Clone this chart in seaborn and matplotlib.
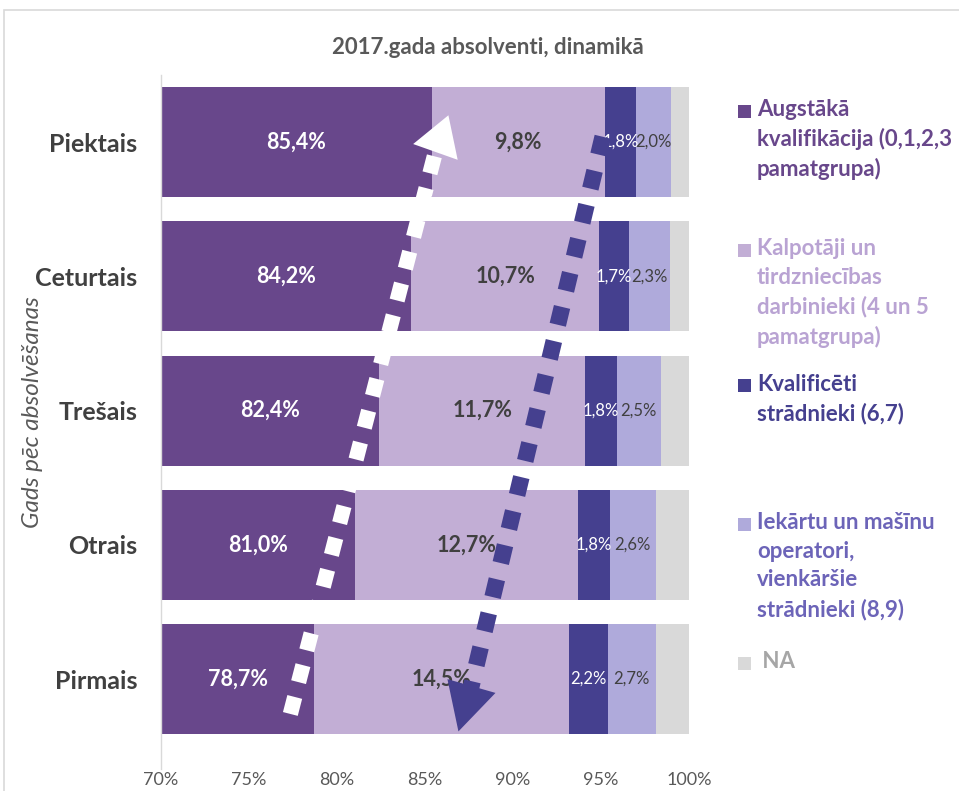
import numpy as np
import pandas as pd
import matplotlib
matplotlib.use("Agg")
import matplotlib.pyplot as plt
from matplotlib.patches import Rectangle
import seaborn as sns

# ---------------- data ----------------
years = ["Piektais", "Ceturtais", "Trešais", "Otrais", "Pirmais"]
augstaka = [85.4, 84.2, 82.4, 81.0, 78.7]
kalpotaji = [9.8, 10.7, 11.7, 12.7, 14.5]
kvalificeti = [1.8, 1.7, 1.8, 1.8, 2.2]
iekartu = [2.0, 2.3, 2.5, 2.6, 2.7]
na_vals = [1.0, 1.1, 1.6, 1.9, 1.9]

series_names = [
    "Augstākā\nkvalifikācija (0,1,2,3\npamatgrupa)",
    "Kalpotāji un\ntirdzniecības\ndarbinieki (4 un 5\npamatgrupa)",
    "Kvalificēti\nstrādnieki (6,7)",
    "Iekārtu un mašīnu\noperatori,\nvienkāršie\nstrādnieki (8,9)",
    " NA",
]
x_ticks = [70, 75, 80, 85, 90, 95, 100]
x_tick_labels = ["70%", "75%", "80%", "85%", "90%", "95%", "100%"]
title = "2017.gada absolventi, dinamikā"
y_label = "Gads pēc absolvēšanas"

bar_colors = ["#68478B", "#C2AED5", "#45408F", "#AFAADB", "#D9D9D9"]
legend_text_colors = ["#68478B", "#B9A3D3", "#45408F", "#6C64B8", "#A6A6A6"]

# ---------------- figure ----------------
sns.set_theme(style="white")
plt.rcParams["font.family"] = ["Lato", "DejaVu Sans"]

W, H = 959, 791
fig = plt.figure(figsize=(W / 100, H / 100), dpi=100)

def fx(px):
    return px / W

def fy(py):
    return 1 - py / H

ax_left, ax_right, ax_top, ax_bottom = 161, 689, 75, 769
ax = fig.add_axes([fx(ax_left), fy(ax_bottom), fx(ax_right - ax_left), (ax_bottom - ax_top) / H])

series = [augstaka, kalpotaji, kvalificeti, iekartu, na_vals]
cum = np.cumsum(np.array(series), axis=0)  # shape (5 series, 5 years)

df = pd.DataFrame({"year": years})
for i in range(len(series)):
    df[f"c{i}"] = cum[i]

# draw from the largest cumulative to the smallest so each layer shows
for i in reversed(range(len(series))):
    sns.barplot(data=df, x=f"c{i}", y="year", order=years, orient="h",
                color=bar_colors[i], saturation=1, width=0.82,
                edgecolor="none", linewidth=0, ax=ax)

ax.set_xlim(70, 100)
ax.set_ylim(4.67, -0.5)
ax.set_xticks(x_ticks)
ax.set_xticklabels(x_tick_labels, fontsize=13, color="#595959")
ax.set_yticks(range(len(years)))
ax.set_yticklabels(years, fontsize=18, fontweight="bold", color="#404040")
ax.tick_params(axis="x", length=0, pad=2)
ax.tick_params(axis="y", length=0, pad=17)
ax.set_xlabel("")
ax.set_ylabel("")
for s in ["top", "right", "bottom"]:
    ax.spines[s].set_visible(False)
ax.spines["left"].set_color("#D9D9D9")
ax.spines["left"].set_linewidth(1)

# ---------------- data labels ----------------
xmin = 70
for j in range(len(years)):
    for i in range(4):
        right = cum[i][j]
        left = cum[i - 1][j] if i > 0 else xmin
        left = max(left, xmin)
        xc = (left + right) / 2
        val = series[i][j]
        txt = f"{val:.1f}%".replace(".", ",")
        if i == 0:
            kw = dict(color="white", fontsize=15.5, fontweight="bold")
        elif i == 1:
            kw = dict(color="#404040", fontsize=15.5, fontweight="bold")
        elif i == 2:
            kw = dict(color="white", fontsize=12)
        else:
            kw = dict(color="#404040", fontsize=12)
        ax.text(xc, j, txt, ha="center", va="center", zorder=5, **kw)

# ---------------- trend arrows ----------------
def trend_arrow(tail, base, tip, color, lw, dashes, head_len, head_w):
    ax.plot([tail[0], base[0]], [tail[1], base[1]], color=color, lw=lw,
            dashes=dashes, solid_capstyle="butt", dash_capstyle="butt", zorder=8)
    ax.annotate("", xy=tip, xytext=base,
                arrowprops=dict(arrowstyle=f"-|>,head_length={head_len},head_width={head_w}",
                                color=color, lw=0, mutation_scale=1,
                                shrinkA=0, shrinkB=0),
                zorder=9)

# white arrow (up)
trend_arrow(tail=(77.35, 4.26), base=(85.6, 0.07), tip=(86.33, -0.2),
            color="white", lw=11, dashes=(1.15, 1.0), head_len=28, head_w=17)
# purple arrow (down)
trend_arrow(tail=(95.1, -0.04), base=(87.6, 4.07), tip=(86.9, 4.39),
            color="#45408F", lw=12, dashes=(1.1, 1.0), head_len=34, head_w=18)

# ---------------- title & y label ----------------
fig.text(fx(488), fy(47), title, ha="center", va="center",
         fontsize=16, fontweight="bold", color="#595959")
fig.text(fx(33), fy(412), y_label, ha="center", va="center", rotation=90,
         fontsize=17.5, fontstyle="italic", color="#595959")

# ---------------- legend ----------------
legend_first_line_y = [111, 250, 386, 524, 663]
for name, col, tcol, ly in zip(series_names, bar_colors, legend_text_colors, legend_first_line_y):
    fig.patches.append(Rectangle((fx(738), fy(ly + 6.5)), fx(13), 13 / H,
                                 transform=fig.transFigure, facecolor=col,
                                 edgecolor="none", figure=fig))
    fig.text(fx(757), fy(ly - 12), name, ha="left", va="top", fontsize=16,
             fontweight="bold", color=tcol, linespacing=1.45)

# chart-area border
fig.patches.append(Rectangle((fx(4), fy(H + 20)), fx(W + 20), (H + 20 - 10) / H,
                             transform=fig.transFigure, facecolor="none",
                             edgecolor="#D9D9D9", linewidth=1.2, figure=fig))

fig.savefig("out.png", dpi=100)
